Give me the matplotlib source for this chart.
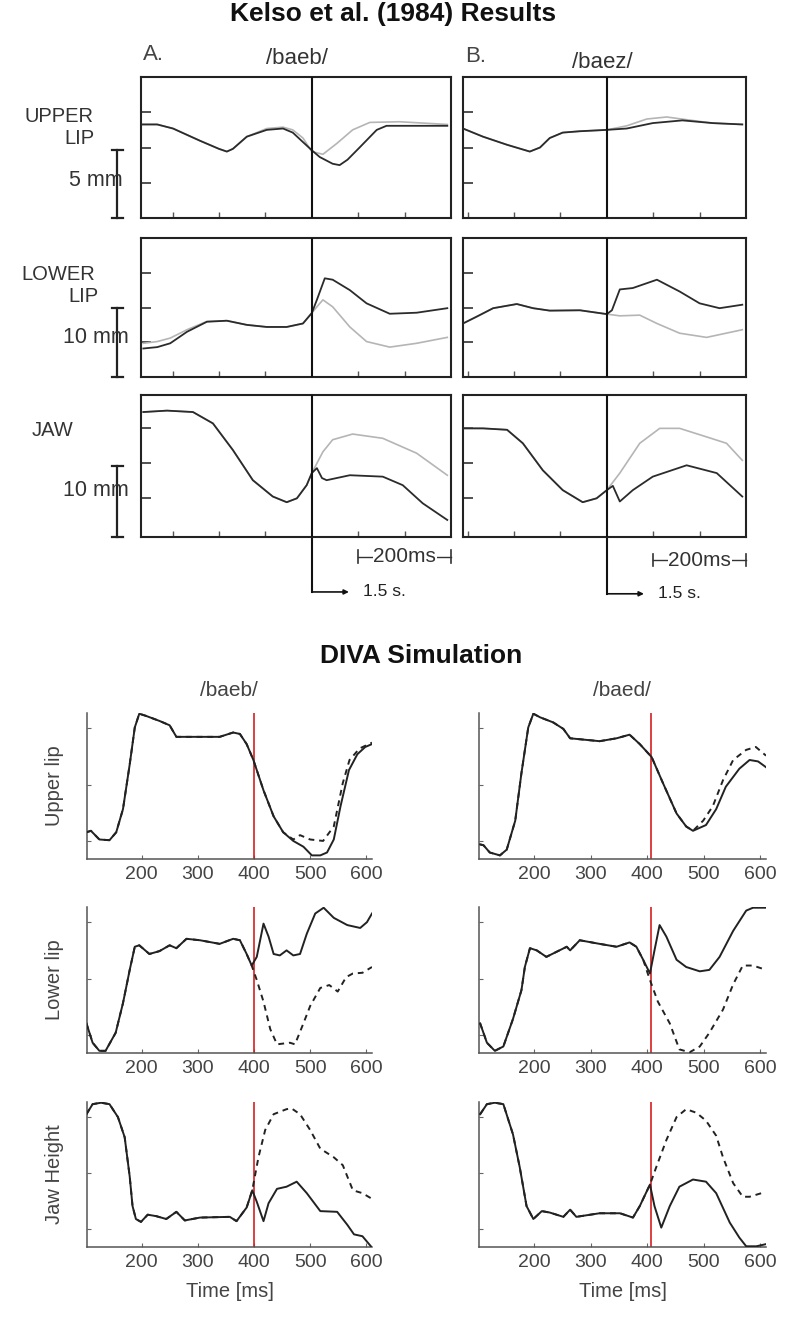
import matplotlib.pyplot as plt
from matplotlib.transforms import blended_transform_factory

plt.rcParams['font.family'] = ['Liberation Sans', 'DejaVu Sans']

# ---- Kelso et al. (1984): time in ms relative to the vertical line, position in mm ----
# /baeb/ upper lip
ul_a_t_dark = [-366, -333, -299, -241, -200, -183, -170, -140, -97, -62, -41, -19, 0, 17, 45, 60, 77, 103, 140, 161, 226, 292]
ul_a_dark = [6.9, 6.9, 6.6, 5.7, 5.1, 4.9, 5.1, 6.0, 6.5, 6.6, 6.3, 5.6, 5.0, 4.5, 4.0, 3.9, 4.3, 5.2, 6.5, 6.8, 6.8, 6.8]
ul_a_t_light = [-366, -333, -299, -241, -200, -183, -170, -140, -97, -62, -41, -19, 0, 24, 54, 88, 125, 189, 292]
ul_a_light = [6.9, 6.9, 6.6, 5.7, 5.1, 4.9, 5.1, 6.0, 6.6, 6.7, 6.5, 5.9, 4.9, 4.7, 5.5, 6.5, 7.05, 7.1, 6.9]
# /baez/ upper lip
ul_b_t_dark = [-310, -267, -215, -166, -144, -123, -95, -58, 0, 43, 99, 163, 228, 292]
ul_b_dark = [6.6, 6.0, 5.4, 4.9, 5.2, 5.9, 6.3, 6.4, 6.5, 6.6, 7.0, 7.2, 7.0, 6.9]
ul_b_t_light = [-310, -267, -215, -166, -144, -123, -95, -58, 0, 43, 86, 129, 172, 228, 292]
ul_b_light = [6.6, 6.0, 5.4, 4.9, 5.2, 5.9, 6.3, 6.4, 6.5, 6.8, 7.3, 7.45, 7.25, 7.0, 6.9]
# /baeb/ lower lip
ll_a_t_dark = [-363, -333, -305, -269, -226, -183, -140, -97, -54, -19, 0, 11, 28, 45, 82, 118, 168, 226, 292]
ll_a_dark = [4.1, 4.3, 4.85, 6.5, 7.95, 8.1, 7.5, 7.2, 7.2, 7.7, 9.2, 11.1, 14.2, 14.0, 12.5, 10.6, 9.1, 9.25, 9.9]
ll_a_t_light = [-363, -333, -305, -269, -226, -183, -140, -97, -54, -19, 0, 11, 24, 45, 82, 118, 168, 226, 292]
ll_a_light = [4.85, 5.1, 5.6, 6.8, 8.0, 8.1, 7.5, 7.2, 7.2, 7.7, 9.2, 10.1, 11.1, 10.1, 7.2, 5.1, 4.3, 4.85, 5.7]
# /baez/ lower lip
ll_b_t_dark = [-310, -280, -245, -194, -159, -123, -58, 0, 11, 28, 56, 108, 157, 200, 243, 292]
ll_b_dark = [7.7, 8.7, 9.9, 10.5, 9.9, 9.55, 9.6, 9.05, 9.6, 12.6, 12.8, 14.0, 12.3, 10.6, 9.9, 10.4]
ll_b_t_light = [-310, -280, -245, -194, -159, -123, -58, 0, 28, 71, 108, 157, 215, 292]
ll_b_light = [7.7, 8.7, 9.9, 10.5, 9.9, 9.55, 9.6, 9.05, 8.8, 8.9, 7.7, 6.3, 5.7, 6.8]
# /baeb/ jaw
jw_a_t_dark = [-363, -312, -256, -213, -170, -127, -84, -54, -32, -11, 0, 11, 22, 32, 82, 153, 196, 239, 292]
jw_a_dark = [17.6, 17.8, 17.6, 16.0, 12.25, 8.0, 5.7, 4.9, 5.45, 7.3, 9.0, 9.7, 8.3, 8.0, 8.7, 8.5, 7.3, 4.75, 2.4]
jw_a_t_light = [-363, -312, -256, -213, -170, -127, -84, -54, -32, -11, 0, 24, 45, 88, 153, 226, 292]
jw_a_light = [17.6, 17.8, 17.6, 16.0, 12.25, 8.0, 5.7, 4.9, 5.45, 7.3, 9.0, 12.0, 13.7, 14.5, 13.9, 11.8, 8.7]
# /baez/ jaw
jw_b_t_dark = [-310, -267, -215, -181, -138, -95, -52, -22, 0, 13, 28, 56, 99, 172, 237, 292]
jw_b_dark = [15.3, 15.3, 15.1, 13.2, 9.4, 6.6, 4.9, 5.45, 6.6, 7.2, 5.0, 6.6, 8.5, 10.1, 9.0, 5.7]
jw_b_t_light = [-310, -267, -215, -181, -138, -95, -52, -22, 0, 28, 71, 114, 157, 215, 258, 292]
jw_b_light = [15.3, 15.3, 15.1, 13.2, 9.4, 6.6, 4.9, 5.45, 6.6, 9.0, 13.2, 15.3, 15.3, 14.1, 13.2, 10.8]

kelso_scale = ['5 mm', '10 mm', '10 mm']
kelso_bar = [5, 10, 10]

# ---- DIVA simulation: time in ms, normalised position ----
baeb_ul_t = [102, 110, 125, 143, 155, 167, 179, 188, 196, 208, 232, 250, 262, 304, 339, 363, 375, 387, 399, 417, 435, 452, 470, 488, 503, 518, 530, 542, 554, 569, 584, 598, 610]
baeb_ul = [0.18, 0.19, 0.13, 0.125, 0.18, 0.34, 0.65, 0.905, 1.0, 0.985, 0.95, 0.92, 0.84, 0.84, 0.84, 0.87, 0.86, 0.79, 0.68, 0.47, 0.29, 0.18, 0.12, 0.08, 0.02, 0.02, 0.04, 0.13, 0.36, 0.61, 0.72, 0.77, 0.79]
baeb_ul_pt_t = [102, 110, 125, 143, 155, 167, 179, 188, 196, 208, 232, 250, 262, 304, 339, 363, 375, 387, 399, 417, 435, 452, 470, 482, 500, 523, 542, 558, 570, 588, 610]
baeb_ul_pt = [0.18, 0.19, 0.13, 0.125, 0.18, 0.34, 0.65, 0.905, 1.0, 0.985, 0.95, 0.92, 0.84, 0.84, 0.84, 0.87, 0.86, 0.79, 0.68, 0.47, 0.29, 0.18, 0.13, 0.16, 0.13, 0.12, 0.22, 0.52, 0.68, 0.76, 0.80]

baed_ul_t = [105, 111, 122, 140, 152, 167, 178, 190, 199, 211, 234, 252, 264, 316, 346, 369, 387, 408, 428, 452, 469, 481, 504, 522, 539, 563, 581, 596, 610]
baed_ul = [0.096, 0.09, 0.04, 0.02, 0.06, 0.26, 0.59, 0.905, 1.0, 0.975, 0.94, 0.895, 0.83, 0.81, 0.83, 0.855, 0.79, 0.70, 0.52, 0.31, 0.22, 0.19, 0.23, 0.34, 0.495, 0.62, 0.68, 0.67, 0.63]
baed_ul_pt_t = [105, 111, 122, 140, 152, 167, 178, 190, 199, 211, 234, 252, 264, 316, 346, 369, 387, 408, 428, 452, 469, 481, 499, 516, 534, 552, 575, 592, 610]
baed_ul_pt = [0.096, 0.09, 0.04, 0.02, 0.06, 0.26, 0.59, 0.905, 1.0, 0.975, 0.94, 0.895, 0.83, 0.81, 0.83, 0.855, 0.79, 0.70, 0.52, 0.31, 0.22, 0.19, 0.26, 0.36, 0.54, 0.68, 0.75, 0.77, 0.71]

baeb_ll_t = [102, 113, 125, 136, 154, 167, 179, 188, 196, 214, 232, 250, 262, 280, 304, 339, 363, 375, 387, 396, 405, 417, 426, 435, 446, 458, 470, 482, 494, 509, 524, 542, 566, 589, 601, 610]
baeb_ll = [0.20, 0.066, 0.01, 0.01, 0.135, 0.34, 0.57, 0.73, 0.74, 0.68, 0.70, 0.74, 0.72, 0.785, 0.775, 0.75, 0.785, 0.775, 0.68, 0.60, 0.66, 0.89, 0.80, 0.68, 0.67, 0.705, 0.67, 0.68, 0.82, 0.96, 1.0, 0.93, 0.88, 0.86, 0.90, 0.96]
baeb_ll_pt_t = [102, 113, 125, 136, 154, 167, 179, 188, 196, 214, 232, 250, 262, 280, 304, 339, 363, 375, 387, 396, 405, 417, 429, 441, 464, 473, 488, 500, 518, 534, 549, 564, 576, 593, 610]
baeb_ll_pt = [0.20, 0.066, 0.01, 0.01, 0.135, 0.34, 0.57, 0.73, 0.74, 0.68, 0.70, 0.74, 0.72, 0.785, 0.775, 0.75, 0.785, 0.775, 0.68, 0.60, 0.50, 0.35, 0.16, 0.055, 0.066, 0.055, 0.20, 0.32, 0.445, 0.465, 0.42, 0.52, 0.545, 0.55, 0.59]

baed_ll_t = [105, 117, 131, 146, 163, 178, 184, 193, 205, 222, 240, 258, 264, 281, 316, 346, 369, 381, 393, 405, 413, 422, 434, 452, 469, 493, 510, 528, 552, 575, 587, 610]
baed_ll = [0.20, 0.066, 0.01, 0.04, 0.23, 0.43, 0.59, 0.72, 0.705, 0.66, 0.695, 0.73, 0.705, 0.775, 0.75, 0.73, 0.76, 0.73, 0.64, 0.545, 0.705, 0.88, 0.80, 0.64, 0.59, 0.56, 0.57, 0.66, 0.84, 0.98, 1.0, 1.0]
baed_ll_pt_t = [105, 117, 131, 146, 163, 178, 184, 193, 205, 222, 240, 258, 264, 281, 316, 346, 369, 381, 393, 405, 419, 440, 457, 475, 493, 510, 534, 552, 569, 587, 610]
baed_ll_pt = [0.20, 0.066, 0.01, 0.04, 0.23, 0.43, 0.59, 0.72, 0.705, 0.66, 0.695, 0.73, 0.705, 0.775, 0.75, 0.73, 0.76, 0.73, 0.64, 0.50, 0.35, 0.20, 0.02, 0.0, 0.04, 0.135, 0.295, 0.47, 0.60, 0.60, 0.57]

baeb_jw_t = [102, 113, 128, 143, 158, 170, 179, 184, 190, 199, 211, 226, 244, 262, 277, 304, 357, 369, 387, 397, 405, 417, 426, 441, 458, 476, 494, 518, 548, 566, 578, 593, 608]
baeb_jw = [0.92, 0.99, 1.0, 0.99, 0.90, 0.76, 0.485, 0.28, 0.19, 0.17, 0.22, 0.21, 0.19, 0.24, 0.18, 0.20, 0.205, 0.175, 0.27, 0.39, 0.31, 0.175, 0.30, 0.40, 0.415, 0.45, 0.37, 0.245, 0.24, 0.15, 0.083, 0.07, 0.0]
baeb_jw_pt_t = [102, 113, 128, 143, 158, 170, 179, 184, 190, 199, 211, 226, 244, 262, 277, 304, 357, 369, 387, 397, 408, 420, 435, 458, 467, 482, 500, 518, 542, 558, 576, 593, 608]
baeb_jw_pt = [0.92, 0.99, 1.0, 0.99, 0.90, 0.76, 0.485, 0.28, 0.19, 0.17, 0.22, 0.21, 0.19, 0.24, 0.18, 0.20, 0.205, 0.175, 0.27, 0.39, 0.62, 0.81, 0.92, 0.955, 0.96, 0.92, 0.81, 0.68, 0.62, 0.565, 0.39, 0.37, 0.335]

baed_jw_t = [105, 117, 131, 146, 163, 175, 187, 199, 214, 228, 252, 264, 275, 316, 352, 375, 387, 405, 413, 425, 440, 457, 481, 504, 522, 546, 563, 575, 593, 610]
baed_jw = [0.92, 0.99, 1.0, 0.99, 0.78, 0.55, 0.28, 0.19, 0.245, 0.235, 0.205, 0.255, 0.205, 0.23, 0.23, 0.20, 0.28, 0.43, 0.28, 0.13, 0.28, 0.415, 0.465, 0.45, 0.37, 0.165, 0.06, 0.0, 0.0, 0.015]
baed_jw_pt_t = [105, 117, 131, 146, 163, 175, 187, 199, 214, 228, 252, 264, 275, 316, 352, 375, 387, 405, 416, 434, 452, 469, 487, 504, 522, 534, 552, 569, 581, 602]
baed_jw_pt = [0.92, 0.99, 1.0, 0.99, 0.78, 0.55, 0.28, 0.19, 0.245, 0.235, 0.205, 0.255, 0.205, 0.23, 0.23, 0.20, 0.28, 0.43, 0.55, 0.74, 0.90, 0.955, 0.93, 0.875, 0.77, 0.62, 0.44, 0.345, 0.345, 0.37]

diva_rows = ['Upper lip', 'Lower lip', 'Jaw Height']
diva_ticks = [200, 300, 400, 500, 600]
perturb_time = [400, 406]

W, H = 800, 1319
fig = plt.figure(figsize=(W / 100, H / 100), dpi=100)


def box(l, t, r, b):
    # axes rectangle given in pixels from the top left corner
    return fig.add_axes([l / W, 1 - b / H, (r - l) / W, (b - t) / H])


def ftext(x, y, s, **kw):
    fig.text(x / W, 1 - y / H, s, **kw)


# ---------------- Kelso part ----------------
ftext(393, 14, 'Kelso et al. (1984) Results', ha='center', va='center', fontsize=19, weight='bold', color='#111')
ftext(143, 55, 'A.', ha='left', va='center', fontsize=16, color='#444')
ftext(297, 58, '/baeb/', ha='center', va='center', fontsize=16, color='#333')
ftext(465, 57, 'B.', ha='left', va='center', fontsize=16, color='#444')
ftext(602, 62, '/baez/', ha='center', va='center', fontsize=16, color='#333')

row_px = [(77, 218), (238, 377), (395, 537)]
col_px = [(141, 451), (463, 746)]
xlims = [(-368, 300), (-310, 300)]
ylims = [(0, 10.4), (0, 20), (0, 20)]
yticks = [[2.6, 5.2, 7.8], [5, 10, 15], [5.5, 10.4, 15.3]]
scale_text_y = [2.8, 5.75, 6.6]

kelso_data = [
    [(ul_a_t_dark, ul_a_dark, ul_a_t_light, ul_a_light), (ul_b_t_dark, ul_b_dark, ul_b_t_light, ul_b_light)],
    [(ll_a_t_dark, ll_a_dark, ll_a_t_light, ll_a_light), (ll_b_t_dark, ll_b_dark, ll_b_t_light, ll_b_light)],
    [(jw_a_t_dark, jw_a_dark, jw_a_t_light, jw_a_light), (jw_b_t_dark, jw_b_dark, jw_b_t_light, jw_b_light)],
]

# row labels
ftext(93, 117, 'UPPER', ha='right', va='center', fontsize=14.5, color='#333')
ftext(95, 138, 'LIP', ha='right', va='center', fontsize=14.5, color='#333')
ftext(95, 275, 'LOWER', ha='right', va='center', fontsize=14.5, color='#333')
ftext(98, 297, 'LIP', ha='right', va='center', fontsize=14.5, color='#333')
ftext(73, 430, 'JAW', ha='right', va='center', fontsize=14.5, color='#333')

for r, (top, bot) in enumerate(row_px):
    for c, (left, right) in enumerate(col_px):
        ax = box(left, top, right, bot)
        td, yd, tl, yl = kelso_data[r][c]
        ax.plot(tl, yl, color='#b5b5b5', lw=1.2, zorder=2)
        ax.plot(td, yd, color='#2b2b2b', lw=1.3, zorder=3)
        ax.axvline(0, color='#111', lw=1.5, zorder=4)
        ax.set_xlim(*xlims[c])
        ax.set_ylim(*ylims[r])
        ax.set_xticks([-300, -200, -100, 100, 200])
        ax.set_yticks(yticks[r])
        ax.tick_params(axis='y', direction='in', length=7, width=1.2, color='#333', labelleft=False)
        ax.tick_params(axis='x', direction='in', length=4, width=1.0, color='#555', labelbottom=False)
        for s in ax.spines.values():
            s.set_linewidth(1.5)
            s.set_color('#222')

        if c == 0:
            # scale bar left of the box
            tr = blended_transform_factory(ax.transAxes, ax.transData)
            xb = (117 - left) / (right - left)
            cap = 5.5 / (right - left)
            ax.text((96 - left) / (right - left), scale_text_y[r], kelso_scale[r], transform=tr,
                    ha='center', va='center', fontsize=15.5, color='#333')
            ax.plot([xb, xb], [0, kelso_bar[r]], transform=tr, clip_on=False, color='#222', lw=1.6)
            for yy in (0, kelso_bar[r]):
                ax.plot([xb - cap, xb + cap], [yy, yy], transform=tr, clip_on=False, color='#222', lw=1.6)

        if r == 2:
            tr = blended_transform_factory(ax.transData, ax.transAxes)
            yb = -0.14 if c == 0 else -0.162
            ya = -0.387 if c == 0 else -0.40
            # 200 ms bracket
            ax.plot([100, 300], [yb, yb], transform=tr, clip_on=False, color='#333', lw=1.0)
            for tt in (100, 300):
                ax.plot([tt, tt], [yb - 0.045, yb + 0.045], transform=tr, clip_on=False, color='#333', lw=1.2)
            ax.text(200, yb, '200ms', transform=tr, ha='center', va='center', fontsize=15, color='#333',
                    bbox=dict(fc='white', ec='none', pad=0.4))
            # time marker continuing to 1.5 s
            ax.plot([0, 0], [0, ya], transform=tr, clip_on=False, color='#111', lw=1.5)
            ax.annotate('', xy=(80, ya), xytext=(0, ya), xycoords=tr, textcoords=tr,
                        arrowprops=dict(arrowstyle='-|>', color='#111', lw=1.2, mutation_scale=7,
                                        shrinkA=0, shrinkB=0))
            ax.text(110, ya, '1.5 s.', transform=tr, ha='left', va='center', fontsize=12.5, color='#222')

# ---------------- DIVA part ----------------
ftext(421, 656, 'DIVA Simulation', ha='center', va='center', fontsize=19, weight='bold', color='#111')
ftext(229, 690, '/baeb/', ha='center', va='center', fontsize=15, color='#444')
ftext(622, 690, '/baed/', ha='center', va='center', fontsize=15, color='#444')

diva_rows_px = [(713, 859), (907, 1053), (1102, 1247)]
diva_cols_px = [(87, 372), (479, 766)]
diva_data = [
    [(baeb_ul_t, baeb_ul, baeb_ul_pt_t, baeb_ul_pt), (baed_ul_t, baed_ul, baed_ul_pt_t, baed_ul_pt)],
    [(baeb_ll_t, baeb_ll, baeb_ll_pt_t, baeb_ll_pt), (baed_ll_t, baed_ll, baed_ll_pt_t, baed_ll_pt)],
    [(baeb_jw_t, baeb_jw, baeb_jw_pt_t, baeb_jw_pt), (baed_jw_t, baed_jw, baed_jw_pt_t, baed_jw_pt)],
]

for r, (top, bot) in enumerate(diva_rows_px):
    ftext(55, (top + bot) / 2, diva_rows[r], rotation=90, ha='center', va='center', fontsize=14.5, color='#444')
    for c, (left, right) in enumerate(diva_cols_px):
        ax = box(left, top, right, bot)
        t1, y1, t2, y2 = diva_data[r][c]
        ax.plot(t1, y1, color='#222', lw=1.4, zorder=3)
        ax.plot(t2, y2, color='#222', lw=1.4, ls=(0, (3, 2.5)), zorder=3)
        ax.axvline(perturb_time[c], color='#d42020', lw=1.2, zorder=2)
        ax.set_xlim(103, 610)
        ax.set_ylim(-0.005, 1.005)
        ax.set_xticks(diva_ticks)
        ax.set_yticks([0.12, 0.51, 0.9])
        ax.tick_params(axis='both', direction='in', length=3, width=0.8, color='#666',
                       labelleft=False, labelsize=14, labelcolor='#444', pad=5)
        for side in ('top', 'right'):
            ax.spines[side].set_visible(False)
        for side in ('left', 'bottom'):
            ax.spines[side].set_color('#555')
            ax.spines[side].set_linewidth(1.1)
        if r == 2:
            ax.text(0.5, -0.31, 'Time [ms]', transform=ax.transAxes, ha='center', va='center',
                    fontsize=14.5, color='#444')

fig.savefig('out.png', dpi=100)
